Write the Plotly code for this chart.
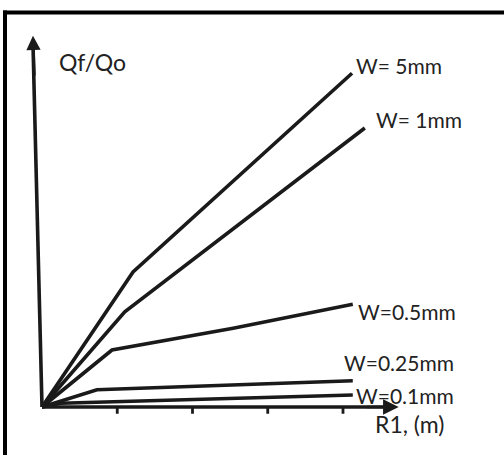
import plotly.graph_objects as go

# ---- data (R1 in tick units, Qf/Qo in arbitrary units) ----
series_names = ["W= 5mm", "W= 1mm", "W=0.5mm", "W=0.25mm", "W=0.1mm"]
r1_5mm = [0.0, 1.21, 4.12]
q_5mm = [0.0, 1.80, 4.45]
r1_1mm = [0.0, 1.10, 4.29]
q_1mm = [0.0, 1.27, 3.72]
r1_05mm = [0.0, 0.93, 2.54, 4.13]
q_05mm = [0.0, 0.76, 1.05, 1.37]
r1_025mm = [0.0, 0.73, 4.13]
q_025mm = [0.0, 0.23, 0.35]
r1_01mm = [0.0, 0.25, 4.13]
q_01mm = [0.0, 0.05, 0.16]
tick_positions = [1, 2, 3, 4]
x_title = "R1, (m)"
y_title = "Qf/Qo"

W, H = 504, 455
ox, oy = 42, 407          # origin pixel
sx, sy = 75.25, 75.0      # pixels per unit

xr = [-ox / sx, (W - ox) / sx]
yr = [-(H - oy) / sy, oy / sy]

ink = "#1a1a1a"
txt = "#222222"
font_family = "Lato"
fig = go.Figure()

all_x = [r1_5mm, r1_1mm, r1_05mm, r1_025mm, r1_01mm]
all_y = [q_5mm, q_1mm, q_05mm, q_025mm, q_01mm]
for name, xs, ys in zip(series_names, all_x, all_y):
    fig.add_trace(go.Scatter(x=xs, y=ys, mode="lines", name=name,
                             line=dict(color=ink, width=3.6), showlegend=False,
                             hoverinfo="skip"))

# axes lines
fig.add_trace(go.Scatter(x=[0, 4.62], y=[0, 0], mode="lines",
                         line=dict(color=ink, width=3.6), showlegend=False, hoverinfo="skip"))
fig.add_trace(go.Scatter(x=[0, -0.12], y=[0, 4.85], mode="lines",
                         line=dict(color=ink, width=3.6), showlegend=False, hoverinfo="skip"))
# tick marks
for t in tick_positions:
    fig.add_trace(go.Scatter(x=[t, t], y=[0, -0.09], mode="lines",
                             line=dict(color=ink, width=2.8), showlegend=False, hoverinfo="skip"))

annotations = []
# arrowheads
annotations.append(dict(x=4.74, y=0, ax=4.3, ay=0, xref="x", yref="y", axref="x", ayref="y",
                        showarrow=True, arrowhead=2, arrowsize=1.2, arrowwidth=2.6,
                        arrowcolor=ink, text=""))
annotations.append(dict(x=-0.12, y=4.95, ax=-0.1, ay=4.4, xref="x", yref="y", axref="x", ayref="y",
                        showarrow=True, arrowhead=2, arrowsize=1.1, arrowwidth=2.6,
                        arrowcolor=ink, text=""))

# series labels (placed next to each end point)
label_offsets = [(0.02, 0.1), (0.12, 0.12), (0.04, -0.1), (-0.14, 0.25), (0.02, 0.0)]
for name, xs, ys, (dx, dy) in zip(series_names, all_x, all_y, label_offsets):
    annotations.append(dict(x=xs[-1] + dx, y=ys[-1] + dy, xref="x", yref="y",
                            text=name, showarrow=False,
                            xanchor="left", yanchor="middle",
                            font=dict(family=font_family, size=21, color=txt)))

annotations.append(dict(x=4.4, y=-0.22, xref="x", yref="y", text=x_title, showarrow=False,
                        xanchor="left", yanchor="middle",
                        font=dict(family=font_family, size=23, color=txt)))
annotations.append(dict(x=0.2, y=4.6, xref="x", yref="y", text=y_title, showarrow=False,
                        xanchor="left", yanchor="middle",
                        font=dict(family=font_family, size=23, color=txt)))
fig.update_layout(annotations=annotations)

# scan frame (top and left edges)
fig.add_shape(type="line", xref="paper", yref="paper", x0=3 / W, x1=1, y0=1 - 12.5 / H, y1=1 - 12.5 / H,
              line=dict(color="#000", width=4))
fig.add_shape(type="line", xref="paper", yref="paper", x0=5 / W, x1=5 / W, y0=1 - 10.5 / H, y1=0,
              line=dict(color="#000", width=4))

fig.update_xaxes(range=xr, visible=False, showgrid=False, zeroline=False)
fig.update_yaxes(range=yr, visible=False, showgrid=False, zeroline=False)
fig.update_layout(width=W, height=H, margin=dict(l=0, r=0, t=0, b=0),
                  paper_bgcolor="white", plot_bgcolor="white")

fig.write_html("out.html", config={"displayModeBar": False},
               post_script="document.body.style.margin='0px';")
